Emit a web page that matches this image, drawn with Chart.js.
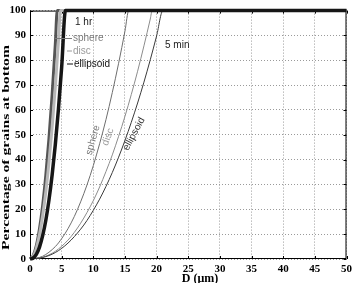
<!DOCTYPE html>
<html>
<head>
<meta charset="utf-8">
<script src="https://cdn.jsdelivr.net/npm/chart.js@4.4.1/dist/chart.umd.min.js"></script>
<style>
  html, body { margin: 0; padding: 0; background: #fff; }
  canvas { display: block; }
</style>
</head>
<body>
<canvas id="c" width="356" height="283"></canvas>
<script>
// grain diameter D (um) vs % of grains at bottom
// 5 min curves
const d5Sphere = [0, 2, 4, 5, 6, 7, 8, 9, 10, 11, 12, 13, 14, 15, 15.6, 50];
const p5Sphere = [0, 1.1, 5, 8.2, 12.2, 17.1, 23, 29.8, 37.6, 46.4, 56.1, 67, 78.8, 91.7, 100, 100];
const d5Disc = [0, 2, 4, 6, 7, 8, 9, 10, 11, 12, 13, 14, 15, 16, 17, 18, 19, 19.3, 50];
const p5Disc = [0, 0.7, 3.1, 7.6, 10.7, 14.4, 18.7, 23.5, 29, 35.2, 41.9, 49.4, 57.4, 66.2, 75.6, 85.8, 96.6, 100, 100];
const d5Ellipsoid = [0, 2, 4, 6, 8, 9, 10, 11, 12, 13, 14, 15, 16, 17, 18, 19, 20, 21, 50];
const p5Ellipsoid = [0, 0.6, 2.6, 6.4, 12, 15.5, 19.6, 24.1, 29.2, 34.8, 41, 47.7, 55, 62.8, 71.2, 80.2, 89.8, 100, 100];
// 1 hr curves
const d1Sphere = [0, 0.5, 1, 1.5, 2, 2.5, 3, 3.5, 4, 4.3, 50];
const p1Sphere = [0, 1.4, 5.4, 12.2, 21.6, 33.8, 48.7, 66.3, 86.5, 100, 100];
const d1Disc = [0, 0.5, 1, 1.5, 2, 2.5, 3, 3.5, 4, 4.5, 4.8, 50];
const p1Disc = [0, 1.1, 4.3, 9.8, 17.4, 27.1, 39.1, 53.2, 69.4, 87.9, 100, 100];
const d1Ellipsoid = [0, 0.5, 1, 1.5, 2, 2.5, 3, 3.5, 4, 4.5, 5, 5.6, 50];
const p1Ellipsoid = [0, 0.4, 1.9, 4.8, 9.4, 15.6, 23.8, 33.9, 46.1, 60.5, 77.1, 100, 100];

const xTicks = [0, 5, 10, 15, 20, 25, 30, 35, 40, 45, 50];
const yTicks = [0, 10, 20, 30, 40, 50, 60, 70, 80, 90, 100];

const pts = (xs, ys) => xs.map((x, i) => ({ x: x, y: ys[i] }));

const line = (xs, ys, color, width) => ({
  data: pts(xs, ys),
  borderColor: color,
  borderWidth: width,
  pointRadius: 0,
  cubicInterpolationMode: 'monotone',
  clip: false
});

const serif = "'Liberation Serif', 'Times New Roman', serif";
const sans = "'Liberation Sans', Arial, sans-serif";

// box, inward ticks and the text notes
const decor = {
  id: 'decor',
  beforeDatasetsDraw(chart) {
    const { ctx, chartArea: a, scales: { x, y } } = chart;
    ctx.save();
    ctx.strokeStyle = '#000';
    ctx.lineWidth = 1;
    ctx.strokeRect(a.left + 0.5, a.top + 0.5, a.right - a.left - 1, a.bottom - a.top - 1);
    ctx.beginPath();
    xTicks.forEach(v => {
      const px = Math.round(x.getPixelForValue(v)) + 0.5;
      ctx.moveTo(px, a.bottom); ctx.lineTo(px, a.bottom - 3);
      ctx.moveTo(px, a.top); ctx.lineTo(px, a.top + 3);
    });
    yTicks.forEach(v => {
      const py = Math.round(y.getPixelForValue(v)) + 0.5;
      ctx.moveTo(a.left, py); ctx.lineTo(a.left + 3, py);
      ctx.moveTo(a.right, py); ctx.lineTo(a.right - 3, py);
    });
    ctx.stroke();
    ctx.restore();
  },
  afterDraw(chart) {
    const { ctx } = chart;
    ctx.save();
    // axis titles
    ctx.fillStyle = '#000';
    ctx.font = 'bold 12px ' + serif;
    ctx.textAlign = 'center';
    ctx.textBaseline = 'alphabetic';
    ctx.fillText('D (\u03bcm)', 200, 282);

    ctx.save();
    ctx.font = 'bold 11px ' + serif;
    const t = 'Percentage of grains at bottom';
    const w = ctx.measureText(t).width;
    ctx.translate(9, 147.5);
    ctx.rotate(-Math.PI / 2);
    ctx.scale(205 / w, 1);
    ctx.fillText(t, 0, 0);
    ctx.restore();

    // 1 hr legend notes
    ctx.font = '10px ' + sans;
    ctx.textAlign = 'left';
    ctx.textBaseline = 'middle';
    ctx.fillStyle = '#222';
    ctx.fillText('1 hr', 75, 22);
    ctx.fillText('5 min', 165, 45.5);
    ctx.fillStyle = '#7a7a7a';
    ctx.fillText('sphere', 73, 38.5);
    ctx.fillStyle = '#9a9a9a';
    ctx.fillText('disc', 73, 51);
    ctx.fillStyle = '#111';
    ctx.fillText('ellipsoid', 74, 64);
    ctx.lineWidth = 1;
    [[55, 72, 38.5, '#7a7a7a'], [67, 72, 51, '#9a9a9a'], [67, 73, 64, '#111']].forEach(s => {
      ctx.strokeStyle = s[3];
      ctx.beginPath();
      ctx.moveTo(s[0], s[2]); ctx.lineTo(s[1], s[2]);
      ctx.stroke();
    });

    // labels along the 5 min curves
    ctx.textAlign = 'center';
    [['sphere', 93, 140, -74, '#7a7a7a'], ['disc', 108, 137, -70, '#9a9a9a'], ['ellipsoid', 134, 134, -62, '#333']].forEach(l => {
      ctx.save();
      ctx.translate(l[1], l[2]);
      ctx.rotate(l[3] * Math.PI / 180);
      ctx.fillStyle = l[4];
      ctx.fillText(l[0], 0, 0);
      ctx.restore();
    });
    ctx.restore();
  }
};

new Chart(document.getElementById('c'), {
  type: 'line',
  data: {
    datasets: [
      line(d1Ellipsoid, p1Ellipsoid, '#161616', 3.5),
      line(d1Disc, p1Disc, '#b8b8b8', 3),
      line(d1Sphere, p1Sphere, '#555', 3),
      line(d5Ellipsoid, p5Ellipsoid, '#3a3a3a', 1),
      line(d5Disc, p5Disc, '#8c8c8c', 1),
      line(d5Sphere, p5Sphere, '#6e6e6e', 1)
    ]
  },
  options: {
    responsive: false,
    animation: false,
    devicePixelRatio: 1,
    layout: { padding: { top: 7, right: 7, left: 0, bottom: 0 } },
    plugins: { legend: { display: false }, tooltip: { enabled: false } },
    scales: {
      x: {
        type: 'linear',
        min: 0,
        max: 50,
        afterFit: s => { s.height = 24; },
        afterBuildTicks: s => { s.ticks = xTicks.map(v => ({ value: v })); },
        ticks: { color: '#000', padding: 4, maxRotation: 0, font: { family: serif, weight: 'bold', size: 11 } },
        grid: { color: '#9a9a9a', lineWidth: 1, drawTicks: false },
        border: { display: false, dash: [1, 2] }
      },
      y: {
        type: 'linear',
        min: 0,
        max: 100,
        afterFit: s => { s.width = 30; },
        afterBuildTicks: s => { s.ticks = yTicks.map(v => ({ value: v })); },
        ticks: { color: '#000', padding: 4, font: { family: serif, weight: 'bold', size: 11 } },
        grid: { color: '#9a9a9a', lineWidth: 1, drawTicks: false },
        border: { display: false, dash: [1, 2] }
      }
    }
  },
  plugins: [decor]
});
</script>
</body>
</html>
